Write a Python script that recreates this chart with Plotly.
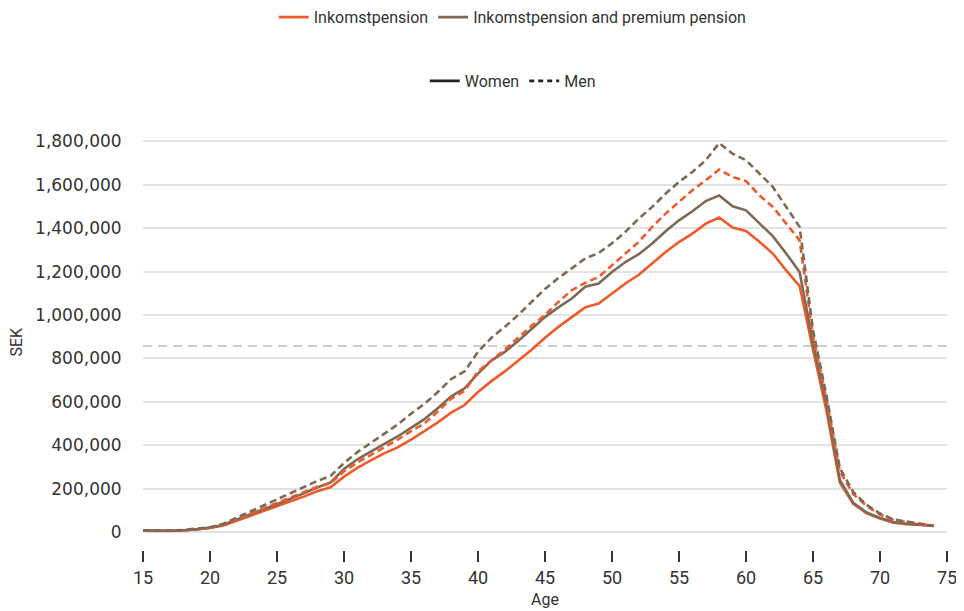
import plotly.graph_objects as go

ages = list(range(15, 75))

women_inkomst = [6000, 5000, 5000, 7000, 11000, 18000, 30000, 52000, 72000, 95000,
                 118000, 140000, 163000, 188000, 206000, 255000, 295000, 330000, 362000, 390000,
                 425000, 465000, 505000, 550000, 585000, 645000, 695000, 740000, 790000, 840000,
                 895000, 945000, 990000, 1035000, 1053000, 1100000, 1145000, 1185000, 1237000, 1290000,
                 1336000, 1375000, 1421000, 1449000, 1403000, 1387000, 1337000, 1283000, 1205000, 1133000,
                 840000, 560000, 228000, 130000, 86000, 62000, 43000, 36000, 33000, 28000]

women_total = [7000, 6000, 6000, 8000, 12000, 20000, 33000, 58000, 80000, 105000,
               128000, 152000, 178000, 205000, 228000, 290000, 335000, 370000, 405000, 440000,
               480000, 520000, 570000, 625000, 662000, 730000, 790000, 830000, 880000, 935000,
               990000, 1035000, 1076000, 1130000, 1145000, 1198000, 1244000, 1280000, 1329000, 1386000,
               1436000, 1478000, 1525000, 1551000, 1501000, 1482000, 1424000, 1363000, 1283000, 1198000,
               870000, 590000, 240000, 135000, 90000, 65000, 46000, 38000, 34000, 29000]

men_inkomst = [7000, 6000, 6000, 8000, 12000, 20000, 35000, 60000, 85000, 110000,
               133000, 157000, 182000, 208000, 225000, 280000, 320000, 355000, 390000, 425000,
               465000, 500000, 555000, 615000, 650000, 740000, 790000, 840000, 895000, 950000,
               1000000, 1060000, 1114000, 1148000, 1175000, 1229000, 1283000, 1337000, 1406000, 1467000,
               1521000, 1575000, 1621000, 1670000, 1636000, 1617000, 1551000, 1498000, 1421000, 1344000,
               905000, 615000, 280000, 175000, 120000, 80000, 55000, 45000, 36000, 28000]

men_total = [8000, 7000, 7000, 9000, 14000, 22000, 38000, 66000, 95000, 120000,
             148000, 178000, 205000, 235000, 258000, 318000, 368000, 410000, 450000, 495000,
             545000, 590000, 645000, 705000, 740000, 830000, 895000, 945000, 1000000, 1060000,
             1120000, 1170000, 1215000, 1260000, 1285000, 1330000, 1383000, 1444000, 1498000, 1559000,
             1613000, 1659000, 1713000, 1792000, 1743000, 1713000, 1652000, 1590000, 1498000, 1406000,
             930000, 630000, 295000, 185000, 125000, 85000, 58000, 47000, 38000, 29000]

reference_level = 857000

x_ticks = [15, 20, 25, 30, 35, 40, 45, 50, 55, 60, 65, 70, 75]
y_ticks = [0, 200000, 400000, 600000, 800000, 1000000, 1200000, 1400000, 1600000, 1800000]
y_tick_labels = ["0", "200,000", "400,000", "600,000", "800,000", "1,000,000",
                 "1,200,000", "1,400,000", "1,600,000", "1,800,000"]

ORANGE = "#EF5A2A"
BROWN = "#7C6A57"
DASH = "7px,4px"
LW = 2.6

fig = go.Figure()

# reference horizontal dashed line
fig.add_trace(go.Scatter(x=[15, 75], y=[reference_level, reference_level], mode="lines",
                         line=dict(color="#BDBDBD", width=1.3, dash="9px,6px"),
                         showlegend=False, hoverinfo="skip"))

fig.add_trace(go.Scatter(x=ages, y=women_inkomst, mode="lines",
                         line=dict(color=ORANGE, width=LW), showlegend=False))
fig.add_trace(go.Scatter(x=ages, y=women_total, mode="lines",
                         line=dict(color=BROWN, width=LW), showlegend=False))
fig.add_trace(go.Scatter(x=ages, y=men_inkomst, mode="lines",
                         line=dict(color=ORANGE, width=LW, dash=DASH), showlegend=False))
fig.add_trace(go.Scatter(x=ages, y=men_total, mode="lines",
                         line=dict(color=BROWN, width=LW, dash=DASH), showlegend=False))

# legend entries
fig.add_trace(go.Scatter(x=[None], y=[None], mode="lines", name="Inkomstpension",
                         line=dict(color=ORANGE, width=LW), legend="legend"))
fig.add_trace(go.Scatter(x=[None], y=[None], mode="lines", name="Inkomstpension and premium pension",
                         line=dict(color=BROWN, width=LW), legend="legend"))
fig.add_trace(go.Scatter(x=[None], y=[None], mode="lines", name="Women",
                         line=dict(color="#222222", width=LW), legend="legend2"))
fig.add_trace(go.Scatter(x=[None], y=[None], mode="lines", name="Men",
                         line=dict(color="#222222", width=LW, dash="5px,4px"), legend="legend2"))

fig.update_layout(
    width=956, height=603,
    margin=dict(l=135, r=17, t=129, b=61),
    paper_bgcolor="white", plot_bgcolor="white",
    font=dict(family="Roboto", size=16, color="#333333"),
    legend=dict(orientation="h", xref="container", yref="container",
                x=0.528, y=0.9847, xanchor="center", yanchor="middle",
                font=dict(family="Roboto", size=16, color="#333333"),
                bgcolor="rgba(0,0,0,0)"),
    legend2=dict(orientation="h", xref="container", yref="container",
                 x=0.528, y=0.879, xanchor="center", yanchor="middle",
                 font=dict(family="Roboto", size=16, color="#333333"),
                 bgcolor="rgba(0,0,0,0)"),
    xaxis=dict(range=[15, 75], tickvals=x_ticks, ticks="outside", ticklen=11,
               tickwidth=1.5, tickcolor="#333333", showgrid=False, zeroline=False,
               showline=False, automargin=False,
               tickfont=dict(family="Roboto", size=18, color="#333333")),
    yaxis=dict(range=[-83000, 1820000], tickvals=y_ticks, ticktext=y_tick_labels,
               showgrid=True, gridcolor="#E3E3E3", gridwidth=1.5, zeroline=False,
               showline=False, ticks="outside", ticklen=17, tickcolor="rgba(0,0,0,0)",
               automargin=False,
               tickfont=dict(family="DejaVu Sans", size=17, color="#333333")),
    annotations=[
        dict(text="Age", xref="paper", yref="paper", x=0.5, y=-0.121,
             xanchor="center", yanchor="middle", showarrow=False,
             font=dict(family="Roboto", size=16, color="#333333")),
        dict(text="SEK", xref="paper", yref="paper", x=-0.157, y=0.504,
             xanchor="center", yanchor="middle", showarrow=False, textangle=-90,
             font=dict(family="Roboto", size=16, color="#333333")),
    ],
)

fig.write_html("out.html")
